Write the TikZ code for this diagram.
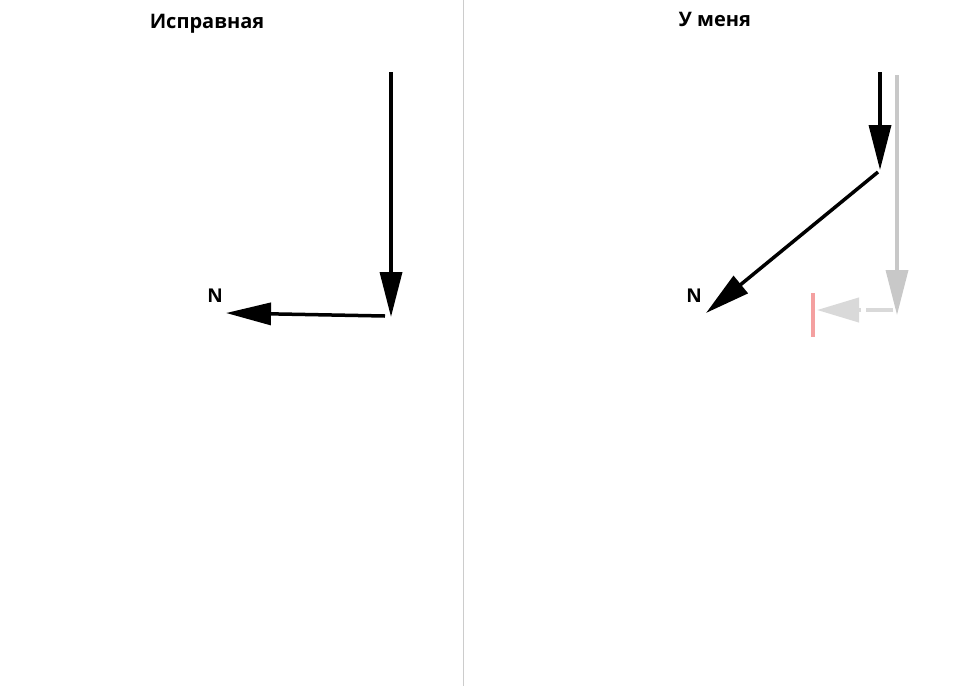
\documentclass[tikz,border=0pt]{standalone}
\usepackage{fontspec}
\setmainfont{Open Sans}
\usetikzlibrary{arrows.meta}
\definecolor{divgray}{HTML}{CCCCCC}
\definecolor{ghost}{HTML}{C8C8C8}
\definecolor{ghostlight}{HTML}{D9D9D9}
\definecolor{stopred}{HTML}{F4A0A0}
\begin{document}
\begin{tikzpicture}[x=1pt,y=-1pt,
  title/.style={font=\bfseries\fontsize{20}{24}\selectfont, inner sep=0pt},
  nlabel/.style={font=\bfseries\fontsize{19}{22}\selectfont, inner sep=0pt},
  bigarrow/.style={line width=3.5pt, -{Triangle[length=45pt,width=22pt]}},
  pt/.style={inner sep=0pt, minimum size=0pt}]
\useasboundingbox (0,0) rectangle (960,686);
\fill[white] (0,0) rectangle (960,686);
% divider
\coordinate (dtop) at (463,0);
\coordinate (dbot) at (463,686);
\draw[divgray, line width=1pt] (dtop) -- (dbot);
% titles
\node[title] (t1) at (207,24) {Исправная};
\node[title] (t2) at (715,19) {У меня};
% left diagram
\coordinate (a1) at (391,72);
\coordinate (a2) at (391,317);
\coordinate (b1) at (385,316);
\coordinate (b2) at (226,313);
\draw[bigarrow] (a1) -- (a2);
\draw[bigarrow] (b1) -- (b2);
\node[nlabel] (n1) at (215,296) {N};
% right diagram: ghost path
\coordinate (g1) at (897,75);
\coordinate (g2) at (897,315);
\coordinate (h1) at (893,310);
\coordinate (h2) at (817,310);
\draw[ghost, line width=3.5pt, -{Triangle[length=45pt,width=22pt]}] (g1) -- (g2);
\draw[ghostlight, line width=4pt, dash pattern=on 27pt off 5pt, -{Triangle[length=42pt,width=24pt]}] (h1) -- (h2);
\coordinate (r1) at (813,293);
\coordinate (r2) at (813,337);
\draw[stopred, line width=4pt] (r1) -- (r2);
% right diagram: actual path
\coordinate (c1) at (880,72);
\coordinate (c2) at (880,170);
\coordinate (d1) at (878,172);
\coordinate (d2) at (706,313);
\draw[bigarrow] (c1) -- (c2);
\draw[bigarrow] (d1) -- (d2);
\node[nlabel] (n2) at (694,296) {N};
\end{tikzpicture}
\end{document}
